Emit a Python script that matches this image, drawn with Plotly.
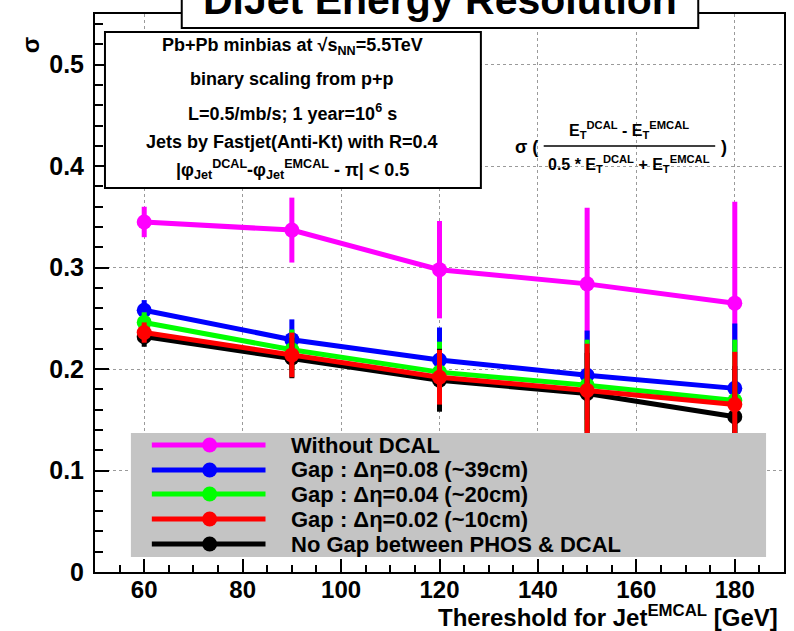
import plotly.graph_objects as go

# Jet threshold [GeV]
thresholds = [60, 90, 120, 150, 180]

series_names = [
    "Without DCAL",
    "Gap : \u0394\u03b7=0.08 (~39cm)",
    "Gap : \u0394\u03b7=0.04 (~20cm)",
    "Gap : \u0394\u03b7=0.02 (~10cm)",
    "No Gap between PHOS & DCAL",
]
series_colors = ["#ff00ff", "#0000ff", "#00ff00", "#ff0000", "#000000"]

# sigma of the dijet energy asymmetry
sigma_no_dcal = [0.345, 0.337, 0.298, 0.284, 0.265]
sigma_gap08 = [0.258, 0.229, 0.209, 0.194, 0.181]
sigma_gap04 = [0.246, 0.219, 0.197, 0.184, 0.169]
sigma_gap02 = [0.236, 0.214, 0.192, 0.179, 0.165]
sigma_nogap = [0.232, 0.211, 0.189, 0.176, 0.153]

err_no_dcal = [0.015, 0.032, 0.048, 0.075, 0.100]
err_gap08 = [0.010, 0.020, 0.032, 0.044, 0.064]
err_gap04 = [0.010, 0.020, 0.030, 0.045, 0.060]
err_gap02 = [0.010, 0.022, 0.027, 0.046, 0.052]
err_nogap = [0.010, 0.020, 0.031, 0.040, 0.050]

values = [sigma_no_dcal, sigma_gap08, sigma_gap04, sigma_gap02, sigma_nogap]
errors = [err_no_dcal, err_gap08, err_gap04, err_gap02, err_nogap]

# plot-area geometry in pixels (used for paper-coordinate helpers)
W, H = 794, 631
PL, PR, PT, PB = 95, 786, 14, 572


def px(x):
    return (x - PL) / (PR - PL)


def py(y):
    return (PB - y) / (PB - PT)


FONT = "Liberation Sans"

fig = go.Figure()

# draw order: black below red so the red bars sit on top
draw_order = [0, 1, 2, 4, 3]
for i in draw_order:
    fig.add_trace(go.Scatter(
        x=thresholds, y=values[i], name=series_names[i], mode="lines+markers",
        line=dict(color=series_colors[i], width=5),
        marker=dict(color=series_colors[i], size=15, symbol="circle"),
        error_y=dict(type="data", array=errors[i], visible=True,
                     thickness=5, width=0, color=series_colors[i]),
        showlegend=False,
    ))

shapes = []
annotations = []

# info box (upper left)
shapes.append(dict(type="rect", xref="paper", yref="paper", layer="above",
                   x0=px(105), x1=px(482), y0=py(188), y1=py(32),
                   line=dict(color="black", width=2), fillcolor="white"))
info_lines = [
    "Pb+Pb minbias at \u221as<sub>NN</sub>=5.5TeV",
    "binary scaling from p+p",
    "L=0.5/mb/s; 1 year=10<sup>6</sup> s",
    "Jets by Fastjet(Anti-Kt) with R=0.4",
    "|\u03c6<sub>Jet</sub><sup>DCAL</sup>-\u03c6<sub>Jet</sub><sup>EMCAL</sup> - \u03c0| &lt; 0.5",
]
info_y = [47, 79, 112, 142, 170]
for txt, yy in zip(info_lines, info_y):
    annotations.append(dict(text=txt, xref="paper", yref="paper",
                            x=px(293), y=py(yy), xanchor="center", yanchor="middle",
                            showarrow=False,
                            font=dict(family=FONT, size=18, color="black", weight="bold")))

# title box, cut by the top of the page
shapes.append(dict(type="rect", xref="paper", yref="paper", layer="above",
                   x0=px(182), x1=px(700), y0=py(28), y1=py(-10),
                   line=dict(color="black", width=2), fillcolor="white"))
annotations.append(dict(text="DiJet Energy Resolution", xref="paper", yref="paper",
                        x=px(441), y=py(0), xanchor="center", yanchor="middle",
                        showarrow=False,
                        font=dict(family=FONT, size=41, color="black", weight="bold")))

# formula for the plotted quantity
fsize = 16
annotations.append(dict(text="\u03c3 (", xref="paper", yref="paper",
                        x=px(541), y=py(147), xanchor="right", yanchor="middle",
                        showarrow=False,
                        font=dict(family=FONT, size=18, color="black", weight="bold")))
annotations.append(dict(text="E<sub>T</sub><sup>DCAL</sup> - E<sub>T</sub><sup>EMCAL</sup>",
                        xref="paper", yref="paper", x=px(631), y=py(130),
                        xanchor="center", yanchor="middle", showarrow=False,
                        font=dict(family=FONT, size=fsize, color="black", weight="bold")))
annotations.append(dict(text="0.5 * E<sub>T</sub><sup>DCAL</sup> + E<sub>T</sub><sup>EMCAL</sup>",
                        xref="paper", yref="paper", x=px(631), y=py(164),
                        xanchor="center", yanchor="middle", showarrow=False,
                        font=dict(family=FONT, size=fsize, color="black", weight="bold")))
shapes.append(dict(type="line", xref="paper", yref="paper", layer="above",
                   x0=px(545), x1=px(717), y0=py(146), y1=py(146),
                   line=dict(color="black", width=1.5)))
annotations.append(dict(text=")", xref="paper", yref="paper",
                        x=px(721), y=py(147), xanchor="left", yanchor="middle",
                        showarrow=False,
                        font=dict(family=FONT, size=18, color="black", weight="bold")))

# legend panel
shapes.append(dict(type="rect", xref="paper", yref="paper", layer="above",
                   x0=px(131), x1=px(768), y0=py(557), y1=py(433),
                   line=dict(width=0), fillcolor="#c4c4c4"))
row_y = [445, 470, 494, 519, 544]
for i, yy in enumerate(row_y):
    shapes.append(dict(type="line", xref="paper", yref="paper", layer="above",
                       x0=px(152), x1=px(266), y0=py(yy), y1=py(yy),
                       line=dict(color=series_colors[i], width=5)))
    shapes.append(dict(type="circle", xref="paper", yref="paper", layer="above",
                       xsizemode="pixel", ysizemode="pixel",
                       xanchor=px(210), yanchor=py(yy),
                       x0=-7.5, x1=7.5, y0=-7.5, y1=7.5,
                       line=dict(width=0), fillcolor=series_colors[i]))
    annotations.append(dict(text=series_names[i].replace("&", "&amp;"),
                            xref="paper", yref="paper",
                            x=px(290), y=py(yy), xanchor="left", yanchor="middle",
                            showarrow=False,
                            font=dict(family=FONT, size=22, color="black", weight="bold")))

# axis titles
annotations.append(dict(text="\u03c3", xref="paper", yref="paper",
                        x=px(30), y=py(45), xanchor="center", yanchor="middle",
                        textangle=-90, showarrow=False,
                        font=dict(family=FONT, size=24, color="black", weight="bold")))
annotations.append(dict(text="Thereshold for Jet<sup>EMCAL</sup> [GeV]",
                        xref="paper", yref="paper",
                        x=px(782), y=0, yshift=-(631 - PB) - 2,
                        xanchor="right", yanchor="bottom",
                        showarrow=False,
                        font=dict(family=FONT, size=24, color="black", weight="bold")))

xtick_font = dict(family=FONT, size=24, color="black", weight="bold")
ytick_font = dict(family=FONT, size=25, color="black", weight="bold")
fig.update_layout(
    width=W, height=H,
    margin=dict(l=PL, r=W - PR, t=PT, b=H - PB, pad=0),
    paper_bgcolor="white", plot_bgcolor="white",
    showlegend=False,
    xaxis=dict(range=[50, 190], tick0=0, dtick=20,
               showline=True, linecolor="black", linewidth=2, mirror=True,
               ticks="inside", ticklen=13, tickwidth=1.5, tickcolor="black",
               showgrid=True, gridcolor="#9a9a9a", griddash="dot", gridwidth=1,
               zeroline=False, tickfont=xtick_font, ticklabelstandoff=-5,
               minor=dict(dtick=5, ticks="inside", ticklen=7, tickwidth=1.5,
                          tickcolor="black", showgrid=False)),
    yaxis=dict(range=[0, 0.55], tick0=0, dtick=0.1,
               showline=True, linecolor="black", linewidth=2, mirror=True,
               ticks="inside", ticklen=14, tickwidth=1.5, tickcolor="black",
               showgrid=True, gridcolor="#9a9a9a", griddash="dot", gridwidth=1,
               zeroline=False, tickfont=ytick_font, ticklabelstandoff=4,
               minor=dict(dtick=0.02, ticks="inside", ticklen=8, tickwidth=1.5,
                          tickcolor="black", showgrid=False)),
    shapes=shapes,
    annotations=annotations,
)

fig.write_html("out.html")
